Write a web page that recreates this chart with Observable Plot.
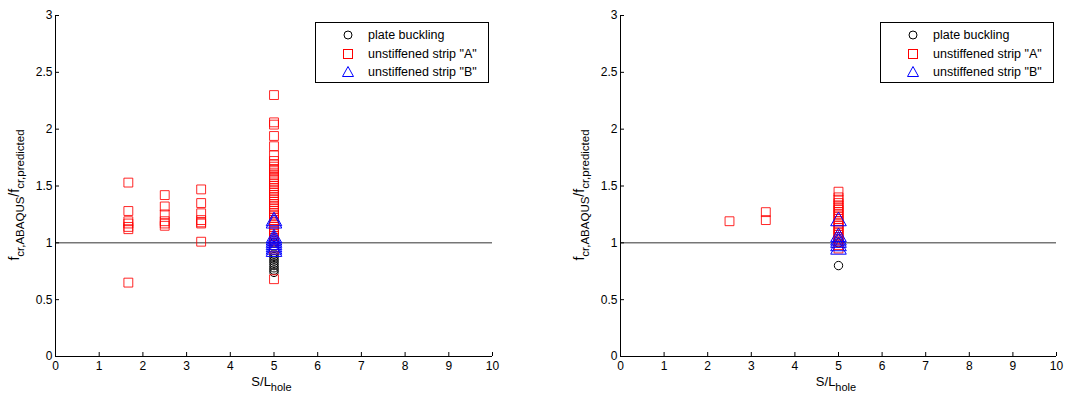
<!DOCTYPE html>
<html><head><meta charset="utf-8">
<script src="https://cdn.jsdelivr.net/npm/d3@7"></script>
<script src="https://cdn.jsdelivr.net/npm/@observablehq/plot@0.6"></script>
<style>
body{margin:0;background:#fff;font-family:"Liberation Sans",Arial,sans-serif;}
#wrap{display:flex;width:1067px;height:400px;}
.panel{position:relative;height:400px;}
.legend{position:absolute;top:22px;width:172px;height:59px;border:1px solid #000;background:#fff;font-size:12.5px;}
.legend .row{position:absolute;left:0;height:16px;display:flex;align-items:center;}
.legend svg{position:absolute;left:24px;}
.legend span{position:absolute;left:52px;white-space:nowrap;}
</style></head>
<body><div id="wrap"></div>
<script>
// ---- data ----
const sValues = [1.667, 2.5, 3.333, 5];
const legendLabels = ["plate buckling", "unstiffened strip \"A\"", "unstiffened strip \"B\""];
const xTicks = [0,1,2,3,4,5,6,7,8,9,10];
const yTicks = [0,0.5,1,1.5,2,2.5,3];

// left panel
const leftA_s1 = [1.53, 1.28, 1.19, 1.17, 1.14, 1.12, 0.65];
const leftA_s2 = [1.42, 1.32, 1.25, 1.19, 1.17, 1.15];
const leftA_s3 = [1.47, 1.35, 1.26, 1.20, 1.18, 1.17, 1.01];
const leftA_s5 = [2.30, 2.06, 2.04, 1.94, 1.85, 1.77, 1.72, 1.69, 1.67, 1.65, 1.63, 1.60, 1.58, 1.56, 1.54, 1.52, 1.50, 1.48, 1.46, 1.44, 1.42, 1.40, 1.38, 1.36, 1.34, 1.32, 1.30, 1.28, 1.26, 1.24, 1.22, 1.20, 1.18, 1.16, 1.14, 1.12, 1.10, 1.08, 1.06, 1.04, 1.02, 1.00, 0.98, 0.96, 0.94, 0.68];
const leftB_s5 = [1.19, 1.17, 1.04, 1.02, 1.00, 0.98, 0.96, 0.94, 0.92];
const leftPlate_s5 = [1.00, 0.90, 0.88, 0.86, 0.84, 0.82, 0.80, 0.78, 0.76, 0.74];

// right panel
const rightA_s2 = [1.19];
const rightA_s3 = [1.27, 1.20];
const rightA_s5 = [1.45, 1.40, 1.38, 1.35, 1.33, 1.31, 1.29, 1.27, 1.25, 1.23, 1.21, 1.19, 1.17, 1.15, 1.13, 1.11, 1.09, 1.07, 1.05, 1.03, 1.01, 0.98, 0.95];
const rightB_s5 = [1.19, 1.05, 1.02, 1.00, 0.97, 0.94];
const rightPlate_s5 = [1.00, 0.80];

const toPts = (s, arr) => arr.map(v => ({s, v}));

const panels = [
  {width:533, ml:55, mr:41, legendLeft:315, ylabX:19,
   plate: toPts(sValues[3], leftPlate_s5),
   A: [...toPts(sValues[0], leftA_s1), ...toPts(sValues[1], leftA_s2), ...toPts(sValues[2], leftA_s3), ...toPts(sValues[3], leftA_s5)],
   B: toPts(sValues[3], leftB_s5)},
  {width:534, ml:87, mr:11, legendLeft:347, ylabX:51,
   plate: toPts(sValues[3], rightPlate_s5),
   A: [...toPts(sValues[1], rightA_s2), ...toPts(sValues[2], rightA_s3), ...toPts(sValues[3], rightA_s5)],
   B: toPts(sValues[3], rightB_s5)}
];

const font = "Liberation Sans, Arial, sans-serif";
const wrap = document.getElementById("wrap");

for (const p of panels) {
  const div = document.createElement("div");
  div.className = "panel";
  div.style.width = p.width + "px";
  const chart = Plot.plot({
    width: p.width, height: 400,
    marginLeft: p.ml, marginRight: p.mr, marginTop: 15, marginBottom: 44,
    style: {fontFamily: font, fontSize: "12px", color: "#000", background: "#fff"},
    x: {domain: [0, 10]},
    y: {domain: [0, 3]},
    marks: [
      Plot.ruleY([1], {stroke: "#333", strokeWidth: 1}),
      Plot.axisX({ticks: xTicks, tickSize: -4, tickPadding: 9, label: null, tickFormat: d => d}),
      Plot.axisY({ticks: yTicks, tickSize: -4, tickPadding: 7, label: null, tickFormat: d => d}),
      Plot.ruleX([0], {stroke: "#000"}),
      Plot.ruleY([0], {stroke: "#000"}),
      Plot.dot(p.plate, {x: "s", y: "v", symbol: "circle", r: 4.2, stroke: "#000", strokeWidth: 1}),
      Plot.dot(p.A, {x: "s", y: "v", symbol: "square", r: 5, stroke: "#f00", strokeWidth: 1, strokeOpacity: 0.85}),
      Plot.dot(p.B, {x: "s", y: "v", symbol: "triangle", r: 5.8, stroke: "#00f", strokeWidth: 1})
    ]
  });
  const svg = d3.select(chart);
  // x label
  const xc = (p.ml + (p.width - p.mr)) / 2;
  const xl = svg.append("text").attr("x", xc - 2).attr("y", 386).attr("text-anchor", "middle")
    .attr("font-family", font).attr("font-size", 13).attr("fill", "#000");
  xl.append("tspan").text("S/L");
  xl.append("tspan").attr("dy", 5).attr("font-size", 11).text("hole");
  // y label
  const yl = svg.append("text").attr("transform", `translate(${p.ylabX},195) rotate(-90)`)
    .attr("text-anchor", "middle").attr("font-family", font).attr("font-size", 14).attr("fill", "#000");
  yl.append("tspan").text("f");
  yl.append("tspan").attr("dy", 5).attr("font-size", 11.5).text("cr,ABAQUS");
  yl.append("tspan").attr("dy", -5).text("/f");
  yl.append("tspan").attr("dy", 5).attr("font-size", 11.5).text("cr,predicted");
  div.appendChild(chart);

  // legend
  const lg = document.createElement("div");
  lg.className = "legend";
  lg.style.left = p.legendLeft + "px";
  const sym = [
    '<circle cx="8" cy="8" r="4" fill="none" stroke="#000"/>',
    '<rect x="3.5" y="3.5" width="9" height="9" fill="none" stroke="#f00"/>',
    '<path d="M8,2.5 L13.5,12.5 L2.5,12.5 Z" fill="none" stroke="#00f"/>'
  ];
  legendLabels.forEach((t, i) => {
    const row = document.createElement("div");
    row.className = "row";
    row.style.top = (4 + i * 18.5) + "px";
    row.style.width = "172px";
    row.innerHTML = `<svg width="16" height="16">${sym[i]}</svg><span></span>`;
    row.querySelector("span").textContent = t;
    lg.appendChild(row);
  });
  div.appendChild(lg);
  wrap.appendChild(div);
}
</script></body></html>
